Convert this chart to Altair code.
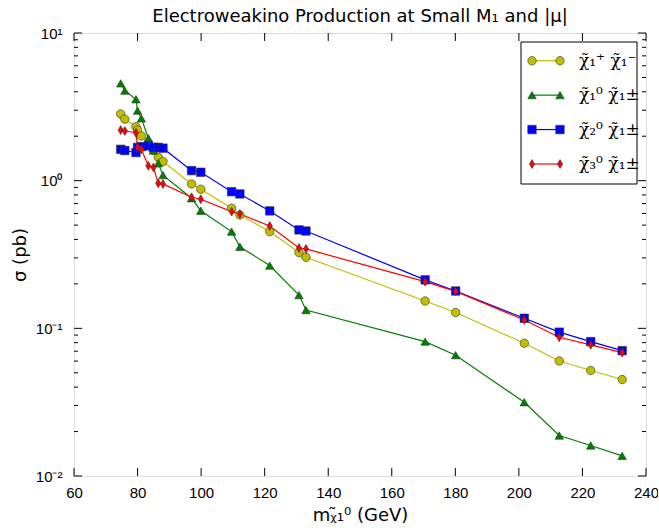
import altair as alt
import pandas as pd

# ---------------- data ----------------
mass = [74.7, 76.0, 79.5, 80.0, 81.2, 83.4, 85.0, 86.5, 88.0, 97.0, 99.9,
        109.6, 112.2, 121.6, 130.8, 133.0, 170.5, 180.1, 201.7, 212.7, 222.6, 232.5]

sigma_c1p_c1m = [2.83, 2.61, 2.32, 2.20, 2.01, 1.78, 1.61, 1.44, 1.35, 0.95, 0.875,
                 0.65, 0.586, 0.452, 0.326, 0.303, 0.153, 0.128, 0.0793, 0.0601, 0.0518, 0.045]
sigma_n1_c1 = [4.56, 4.07, 3.56, 2.98, 2.64, 1.94, 1.60, 1.31, 1.09, 0.76, 0.626,
               0.452, 0.357, 0.266, 0.168, 0.133, 0.0813, 0.0658, 0.0316, 0.0188, 0.0161, 0.0137]
sigma_n2_c1 = [1.63, 1.60, 1.55, 1.68, 1.70, 1.72, 1.68, 1.68, 1.66, 1.17, 1.14,
               0.842, 0.813, 0.624, 0.464, 0.456, 0.213, 0.179, 0.117, 0.0942, 0.0813, 0.0706]
sigma_n3_c1 = [2.20, 2.17, 2.11, 1.68, 1.63, 1.26, 1.23, 0.96, 0.95, 0.772, 0.748,
               0.617, 0.595, 0.493, 0.350, 0.345, 0.207, 0.178, 0.114, 0.087, 0.0773, 0.0685]

series_labels = ["χ̃₁⁺ χ̃₁⁻", "χ̃₁⁰ χ̃₁±", "χ̃₂⁰ χ̃₁±", "χ̃₃⁰ χ̃₁±"]
series_values = [sigma_c1p_c1m, sigma_n1_c1, sigma_n2_c1, sigma_n3_c1]

x_tick_values = [60, 80, 100, 120, 140, 160, 180, 200, 220, 240]
y_major = [0.01, 0.1, 1, 10]
y_minor = [round(d * 10 ** e, 6) for e in (-2, -1, 0) for d in range(2, 10)]

# ---------------- styling ----------------
colors = ["#bfbf00", "#008000", "#0000ff", "#ff0000"]
plot_shapes = ["circle", "triangle-up", "square", "M0,-1.05L0.62,0L0,1.05L-0.62,0Z"]
W, H = 572, 443
MAJ, MIN = 8, 4

rows = []
for lab, vals in zip(series_labels, series_values):
    for m, s in zip(mass, vals):
        rows.append({"series": lab, "mass": m, "sigma": s})
df = pd.DataFrame(rows)
legend_df = pd.DataFrame({"series": series_labels})
xt_df = pd.DataFrame({"mass": x_tick_values})
yt_major_df = pd.DataFrame({"sigma": y_major})
yt_minor_df = pd.DataFrame({"sigma": y_minor})

FONT = "DejaVu Sans"
TICKFONT = "Liberation Sans"
y_label_expr = ("datum.value == 10 ? '10¹' : datum.value == 1 ? '10⁰' : "
                "datum.value == 0.1 ? '10⁻¹' : datum.value == 0.01 ? '10⁻²' : ''")

x_scale = alt.Scale(domain=[60, 240], nice=False, zero=False)
y_scale = alt.Scale(type="log", domain=[0.01, 10], nice=False)
color_scale = alt.Scale(domain=series_labels, range=colors)
shape_scale = alt.Scale(domain=series_labels, range=plot_shapes)

x_axis = alt.Axis(values=x_tick_values, title="mᵪ̃₁⁰ (GeV)", grid=False, domain=False,
                  ticks=False, labelPadding=9,
                  labelFont=TICKFONT, labelFontSize=15, labelColor="black",
                  titleFont=FONT, titleFontSize=18, titleFontWeight="normal",
                  titleColor="black", titlePadding=6, labelFlush=False)
y_axis = alt.Axis(values=y_major, labelExpr=y_label_expr, title="σ (pb)", grid=False,
                  domain=False, ticks=False, labelPadding=12,
                  labelFont=TICKFONT, labelFontSize=15, labelColor="black",
                  titleFont=FONT, titleFontSize=18, titleFontWeight="normal",
                  titleColor="black", titlePadding=6, labelFlush=False)

X = alt.X("mass:Q", scale=x_scale, axis=x_axis)
Y = alt.Y("sigma:Q", scale=y_scale, axis=y_axis)

lines = alt.Chart(df).mark_line(strokeWidth=1.2).encode(
    x=X, y=Y,
    color=alt.Color("series:N", scale=color_scale, legend=None),
    detail="series:N",
    order=alt.Order("mass:Q"),
)
points = alt.Chart(df).mark_point(filled=True, size=72, stroke="#333333", strokeWidth=0.6,
                                  opacity=1).encode(
    x=X, y=Y,
    color=alt.Color("series:N", scale=color_scale, legend=None),
    shape=alt.Shape("series:N", scale=shape_scale, legend=None),
)

# inward ticks on all four sides, placed through the shared scales
tick_style = dict(color="black", strokeWidth=1)
xt_bottom = alt.Chart(xt_df).mark_rule(**tick_style).encode(
    x=X, y=alt.value(H - MAJ), y2=alt.value(H))
xt_top = alt.Chart(xt_df).mark_rule(**tick_style).encode(
    x=X, y=alt.value(0), y2=alt.value(MAJ))
yt_left_major = alt.Chart(yt_major_df).mark_rule(**tick_style).encode(
    y=Y, x=alt.value(0), x2=alt.value(MAJ))
yt_right_major = alt.Chart(yt_major_df).mark_rule(**tick_style).encode(
    y=Y, x=alt.value(W - MAJ), x2=alt.value(W))
yt_left_minor = alt.Chart(yt_minor_df).mark_rule(**tick_style).encode(
    y=Y, x=alt.value(0), x2=alt.value(MIN))
yt_right_minor = alt.Chart(yt_minor_df).mark_rule(**tick_style).encode(
    y=Y, x=alt.value(W - MIN), x2=alt.value(W))

main = alt.layer(xt_bottom, xt_top, yt_left_major, yt_right_major, yt_left_minor,
                 yt_right_minor, lines, points)

# ---------------- legend drawn as marks ----------------
leg_y = alt.Y("series:N", scale=alt.Scale(domain=series_labels, range=[10.5, 148.2]), axis=None)
leg_base = alt.Chart(legend_df)
leg_box = leg_base.mark_rect(fill="white", stroke="black", strokeWidth=1).encode(
    x=alt.value(447), x2=alt.value(563), y=alt.value(9), y2=alt.value(151)
).transform_filter(alt.datum.series == series_labels[0])
leg_line = leg_base.mark_rule(strokeWidth=1.2).encode(
    x=alt.value(458), x2=alt.value(486), y=leg_y,
    color=alt.Color("series:N", scale=color_scale, legend=None),
)
leg_pts_l = leg_base.mark_point(filled=True, size=72, stroke="#333333", strokeWidth=0.6,
                                opacity=1).encode(
    x=alt.value(458), y=leg_y,
    color=alt.Color("series:N", scale=color_scale, legend=None),
    shape=alt.Shape("series:N", scale=shape_scale, legend=None),
)
leg_pts_r = leg_pts_l.encode(x=alt.value(486))
leg_text = leg_base.mark_text(align="left", baseline="middle", font="DejaVu Serif",
                              fontSize=17, color="black").encode(
    x=alt.value(505), y=leg_y, text="series:N",
)
legend_layer = alt.layer(leg_box, leg_line, leg_pts_l, leg_pts_r, leg_text)

chart = alt.layer(main, legend_layer).resolve_scale(y="independent").properties(
    width=W, height=H,
    title=alt.TitleParams("Electroweakino Production at Small M₁ and |μ|", font=FONT,
                          fontSize=18, fontWeight="normal", color="black", offset=0),
    autosize=alt.AutoSizeParams(type="none"),
    padding={"left": 74, "top": 33, "right": 12, "bottom": 55},
).configure_view(stroke="black", strokeWidth=1.2).configure(background="white")

chart.save("out.html", embed_options={"renderer": "svg", "actions": False})
